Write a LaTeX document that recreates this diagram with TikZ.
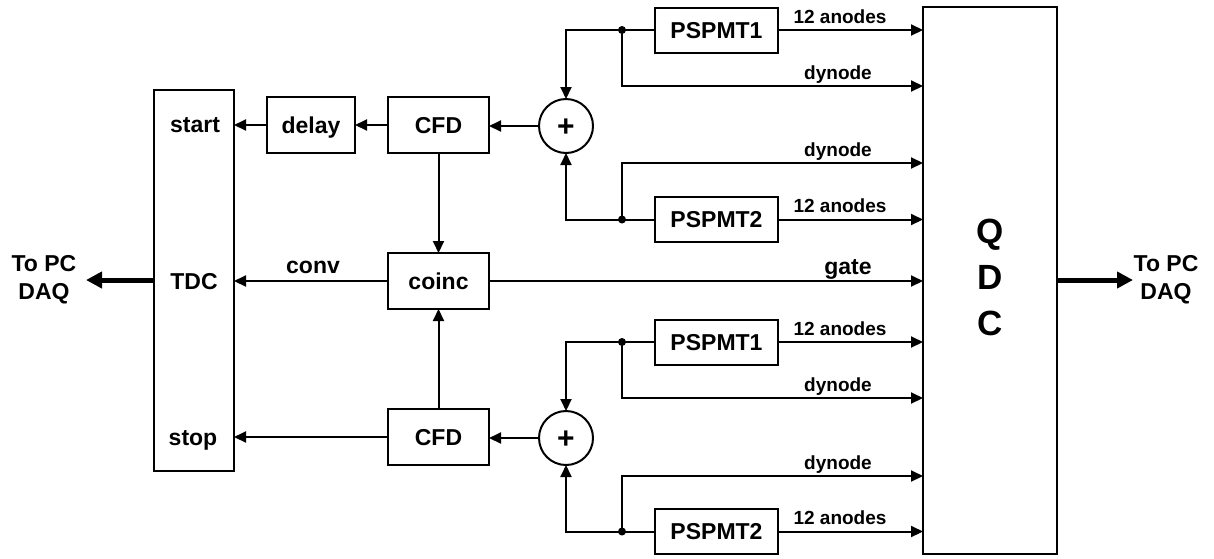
\documentclass[tikz,border=0pt]{standalone}
\usepackage{fontspec}
\setmainfont{Liberation Sans}
\usetikzlibrary{arrows.meta,calc}
\begin{document}
\begin{tikzpicture}[x=1pt,y=-1pt,
  every node/.style={inner sep=0pt,outer sep=0pt},
  box/.style={draw,line width=2pt,font=\fontsize{23}{27}\selectfont\bfseries,text height=16.5pt,text depth=0pt},
  lbl/.style={font=\fontsize{23}{27}\selectfont\bfseries},
  capbox/.style={text height=16.5pt,text depth=0pt},
  sml/.style={font=\fontsize{19}{22}\selectfont\bfseries,anchor=base},
  arr/.style={line width=2pt,-{Triangle[length=12pt,width=11pt]}},
  ln/.style={line width=2pt},
  thick arr/.style={line width=5pt,-{Triangle[length=16pt,width=16pt]}},
  jdot/.style={circle,fill,minimum size=8pt}]
\useasboundingbox (0,0) rectangle (1214,558);
% boxes
\node[box,minimum width=80pt,minimum height=381pt] (tdc) at (194,280) {};
\node[lbl,capbox] (tstart) at (195,124) {start};
\node[lbl,capbox] (ttdc) at (194,281) {TDC};
\node[lbl,capbox] (tstop) at (193,437) {stop};
\node[box,minimum width=88pt,minimum height=56pt] (delay) at (311,125) {delay};
\node[box,minimum width=101pt,minimum height=56pt] (cfd1) at (438.5,125) {CFD};
\node[box,minimum width=101pt,minimum height=56pt] (coinc) at (438.5,281) {coinc};
\node[box,minimum width=101pt,minimum height=56pt] (cfd2) at (438.5,437) {CFD};
\node[box,circle,minimum size=54pt,font=\fontsize{30}{30}\selectfont\bfseries,text height=21pt] (plus1) at (566,126) {+};
\node[box,circle,minimum size=54pt,font=\fontsize{30}{30}\selectfont\bfseries,text height=21pt] (plus2) at (566,438) {+};
\node[box,minimum width=123pt,minimum height=45pt] (p1a) at (716.5,30) {PSPMT1};
\node[box,minimum width=123pt,minimum height=45pt] (p2a) at (716.5,219.5) {PSPMT2};
\node[box,minimum width=123pt,minimum height=45pt] (p1b) at (716.5,342) {PSPMT1};
\node[box,minimum width=123pt,minimum height=45pt] (p2b) at (716.5,531.5) {PSPMT2};
\node[box,minimum width=134pt,minimum height=547pt] (qdc) at (990,280.5) {};
\node[font=\fontsize{35}{46}\selectfont\bfseries,align=center] (tqdc) at (990,277) {Q\\D\\C};
% junctions
\node[jdot] (j1) at (622,30) {};
\node[jdot] (j2) at (622,219.5) {};
\node[jdot] (j3) at (622,342) {};
\node[jdot] (j4) at (622,531.5) {};
% free ends
\coordinate (d1) at (923,86);
\coordinate (d2) at (923,163);
\coordinate (d3) at (923,398);
\coordinate (d4) at (923,476);
\coordinate (pcl) at (86,280);
\coordinate (pcr) at (1133,280);
% upper group
\draw[ln] (j1.center) -- (p1a.west);
\draw[arr] (p1a.east) -- (p1a.east -| qdc.west);
\draw[arr] (j1.center) -| (plus1.north);
\draw[arr] (j1.center) |- (d1);
\draw[ln] (j2.center) -- (p2a.west);
\draw[arr] (p2a.east) -- (p2a.east -| qdc.west);
\draw[arr] (j2.center) -| (plus1.south);
\draw[arr] (j2.center) |- (d2);
% lower group
\draw[ln] (j3.center) -- (p1b.west);
\draw[arr] (p1b.east) -- (p1b.east -| qdc.west);
\draw[arr] (j3.center) -| (plus2.north);
\draw[arr] (j3.center) |- (d3);
\draw[ln] (j4.center) -- (p2b.west);
\draw[arr] (p2b.east) -- (p2b.east -| qdc.west);
\draw[arr] (j4.center) -| (plus2.south);
\draw[arr] (j4.center) |- (d4);
% logic chain
\draw[arr] (plus1.west) -- (plus1.west -| cfd1.east);
\draw[arr] (plus2.west) -- (plus2.west -| cfd2.east);
\draw[arr] (cfd1.west) -- (delay.east);
\draw[arr] (delay.west) -- (delay.west -| tdc.east);
\draw[arr] (cfd1.south) -- (coinc.north);
\draw[arr] (cfd2.north) -- (coinc.south);
\draw[arr] (coinc.west) -- (coinc.west -| tdc.east);
\draw[arr] (cfd2.west) -- (cfd2.west -| tdc.east);
\draw[arr] (coinc.east) -- (coinc.east -| qdc.west);
% outputs
\draw[thick arr] (tdc.west |- pcl) -- (pcl);
\draw[thick arr] (qdc.east |- pcr) -- (pcr);
\node[align=center,font=\fontsize{23}{28}\selectfont\bfseries] (pcL) at (44,280) {To PC\\DAQ};
\node[align=center,font=\fontsize{23}{28}\selectfont\bfseries] (pcR) at (1166,280) {To PC\\DAQ};
% labels
\node[sml] (l1) at (840,23) {12 anodes};
\node[sml] (l2) at (838,79) {dynode};
\node[sml] (l3) at (838,156) {dynode};
\node[sml] (l4) at (840,212) {12 anodes};
\node[sml] (l5) at (840,335) {12 anodes};
\node[sml] (l6) at (838,391) {dynode};
\node[sml] (l7) at (838,469) {dynode};
\node[sml] (l8) at (840,524) {12 anodes};
\node[lbl,anchor=base] (lgate) at (848,274) {gate};
\node[lbl,anchor=base] (lconv) at (313,273) {conv};
\end{tikzpicture}
\end{document}
